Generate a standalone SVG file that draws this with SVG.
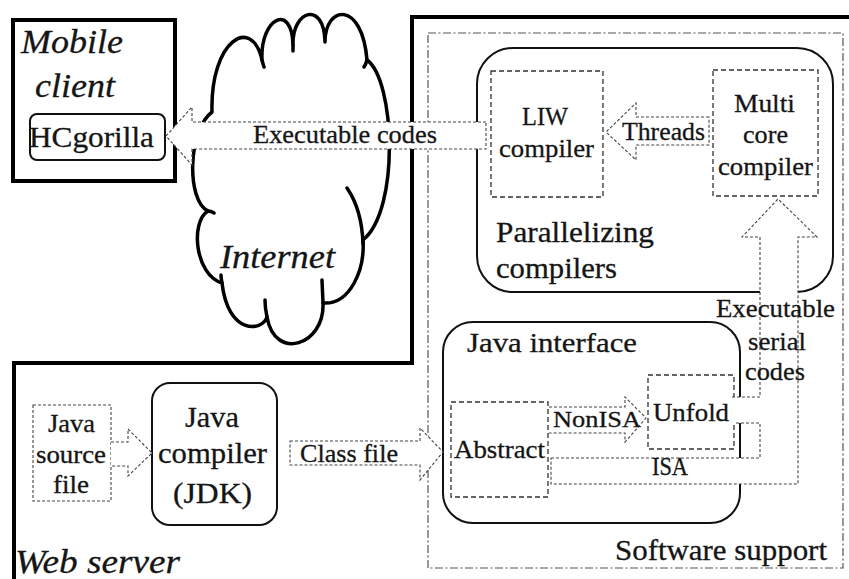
<svg xmlns="http://www.w3.org/2000/svg" width="849" height="579" viewBox="0 0 849 579">
  <style>
    text { font-family: "Times New Roman", serif; fill: #151515; stroke: #151515; stroke-width: 0.3; }
    .it { font-style: italic; }
    .frame { fill: none; stroke: #000; stroke-width: 4; }
    .rbox { fill: none; stroke: #111; stroke-width: 2; }
    .dbox { fill: none; stroke: #333; stroke-width: 1.3; stroke-dasharray: 5 3; }
    .sbox { fill: none; stroke: #444; stroke-width: 1.1; stroke-dasharray: 3 2; }
    .ddot { fill: none; stroke: #555; stroke-width: 1.2; stroke-dasharray: 8 2.5 2 2.5; }
    .arrow { fill: #fff; stroke: #444; stroke-width: 1.1; stroke-dasharray: 3 2; }
    .fill { fill: #fff; stroke: none; }
    .line { fill: none; stroke: #444; stroke-width: 1.1; stroke-dasharray: 3 2; }
    .cloud { fill: #fff; stroke: #000; stroke-width: 3.5; stroke-linejoin: round; stroke-linecap: round; }
    .tail { fill: none; stroke: #000; stroke-width: 3.5; stroke-linecap: round; }
  </style>

  <!-- outer frames -->
  <g id="mobile-client">
    <rect class="frame" x="13" y="20" width="162" height="161"/>
    <text class="it" x="21" y="53" font-size="34" textLength="102" lengthAdjust="spacingAndGlyphs">Mobile</text>
    <text class="it" x="35" y="97" font-size="34" textLength="80" lengthAdjust="spacingAndGlyphs">client</text>
  </g>
  <g id="hcgorilla">
    <rect class="rbox" x="30" y="114" width="135" height="46" rx="7"/>
    <text x="29" y="147" font-size="30" textLength="125" lengthAdjust="spacingAndGlyphs">HCgorilla</text>
  </g>

  <g id="web-server">
    <path class="frame" d="M851,17 L412,17 L412,363 L14,363 L14,581"/>
    <text class="it" x="15" y="573" font-size="34" textLength="165" lengthAdjust="spacingAndGlyphs">Web server</text>
  </g>

  <g id="software-support">
    <rect class="ddot" x="428" y="33" width="415" height="535"/>
    <text x="615" y="560" font-size="30" textLength="212" lengthAdjust="spacingAndGlyphs">Software support</text>
  </g>

  <g id="parallelizing-compilers">
    <rect class="rbox" x="477" y="48" width="356" height="244" rx="36"/>
  </g>
  <g id="liw-compiler">
    <rect class="dbox" x="491" y="71" width="112" height="126"/>
  </g>
  <g id="multicore-compiler">
    <rect class="dbox" x="713" y="70" width="105" height="126"/>
  </g>

  <g id="java-interface">
    <rect class="rbox" x="443" y="322" width="297" height="201" rx="30"/>
  </g>
  <g id="abstract">
    <rect class="dbox" x="451" y="402" width="97" height="95"/>
  </g>
  <g id="unfold">
    <rect class="dbox" x="648" y="375" width="86" height="74"/>
  </g>

  <g id="java-source">
    <rect class="sbox" x="33" y="405" width="78" height="96"/>
  </g>
  <g id="java-compiler">
    <rect class="rbox" x="152" y="383" width="125" height="142" rx="18"/>
  </g>

  <!-- the Internet cloud -->
  <g id="internet">
    <path class="cloud" d="M212,112
      C210,40 252,15 262,60
      C260,18 292,2 293,45
      C292,10 324,0 325,42
      C325,5 362,0 367,60
      C395,80 400,210 363,240
      C365,270 350,305 323,303
      C325,345 275,362 267,317
      C262,332 228,335 222,283
      C195,275 190,222 208,211
      C186,200 188,130 212,112 Z"/>
    <path class="tail" d="M262,60 Q263,64 264,67 M293,45 L293,51 M367,60 Q366,64 364,67 M347,188 Q362,210 363,244 M323,303 L322,280 M267,317 Q265,308 265,300 M222,283 Q221,278 221,275 M208,211 Q211,211 214,213"/>
  </g>

  <!-- connectors -->
  <g id="connectors">
    <!-- Executable codes -->
    <path class="arrow" d="M486,122 L192,122 L192,107 L166,136 L192,165 L192,149 L486,149 Z"/>
    <!-- Threads -->
    <path class="arrow" d="M709,117 L636,117 L636,103 L606,132 L636,160 L636,145 L709,145 Z"/>
    <!-- Java source to compiler -->
    <path class="arrow" d="M111,442 L128,442 L128,429 L152,453 L128,476 L128,466 L111,466"/>
    <!-- Class file -->
    <path class="arrow" d="M290,441 L420,441 L420,428 L443,452 L420,480 L420,465 L290,465 Z"/>
    <!-- NonISA -->
    <path class="arrow" d="M549,407 L625,407 L625,397 L646,418 L625,442 L625,433 L549,433"/>
    <!-- ISA and Unfold up to the multi core compiler -->
    <path class="fill" d="M551,458 L760,458 L760,423 L732,423 L732,397 L760,397 L760,237 L742,237 L778,199 L817,237 L798,237 L798,484 L551,484 Z"/>
    <path class="line" d="M551,458 L760,458 L760,423 L734,423"/>
    <path class="line" d="M732,397 L760,397 L760,237 L742,237 L778,199 L817,237 L798,237 L798,484 L551,484 L551,458"/>
  </g>

  <!-- labels -->
  <g id="labels" lengthAdjust="spacingAndGlyphs">
    <text x="253" y="143" font-size="25" textLength="184" lengthAdjust="spacingAndGlyphs">Executable codes</text>
    <text class="it" x="220" y="268" font-size="33" textLength="115" lengthAdjust="spacingAndGlyphs">Internet</text>

    <text x="522" y="125" font-size="26" textLength="46" lengthAdjust="spacingAndGlyphs">LIW</text>
    <text x="499" y="157" font-size="26" textLength="95" lengthAdjust="spacingAndGlyphs">compiler</text>
    <text x="734" y="112" font-size="26" textLength="61" lengthAdjust="spacingAndGlyphs">Multi</text>
    <text x="743" y="143" font-size="26" textLength="45" lengthAdjust="spacingAndGlyphs">core</text>
    <text x="718" y="175" font-size="26" textLength="95" lengthAdjust="spacingAndGlyphs">compiler</text>
    <text x="622" y="140" font-size="25" textLength="83" lengthAdjust="spacingAndGlyphs">Threads</text>
    <text x="496" y="242" font-size="30" textLength="158" lengthAdjust="spacingAndGlyphs">Parallelizing</text>
    <text x="496" y="278" font-size="30" textLength="121" lengthAdjust="spacingAndGlyphs">compilers</text>

    <text x="716" y="317" font-size="26" textLength="119" lengthAdjust="spacingAndGlyphs">Executable</text>
    <text x="748" y="350" font-size="26" textLength="58" lengthAdjust="spacingAndGlyphs">serial</text>
    <text x="745" y="380" font-size="26" textLength="60" lengthAdjust="spacingAndGlyphs">codes</text>

    <text x="467" y="352" font-size="28" textLength="170" lengthAdjust="spacingAndGlyphs">Java interface</text>
    <text x="454" y="458" font-size="26" textLength="91" lengthAdjust="spacingAndGlyphs">Abstract</text>
    <text x="553" y="427" font-size="24" textLength="88" lengthAdjust="spacingAndGlyphs">NonISA</text>
    <text x="653" y="421" font-size="25" textLength="76" lengthAdjust="spacingAndGlyphs">Unfold</text>
    <text x="652" y="475" font-size="25" textLength="36" lengthAdjust="spacingAndGlyphs">ISA</text>

    <text x="300" y="462" font-size="25" textLength="98" lengthAdjust="spacingAndGlyphs">Class file</text>
    <text x="48" y="432" font-size="25" textLength="47" lengthAdjust="spacingAndGlyphs">Java</text>
    <text x="36" y="463" font-size="25" textLength="70" lengthAdjust="spacingAndGlyphs">source</text>
    <text x="53" y="493" font-size="25" textLength="36" lengthAdjust="spacingAndGlyphs">file</text>
    <text x="185" y="427" font-size="30" textLength="54" lengthAdjust="spacingAndGlyphs">Java</text>
    <text x="158" y="463" font-size="30" textLength="109" lengthAdjust="spacingAndGlyphs">compiler</text>
    <text x="173" y="503" font-size="30" textLength="79" lengthAdjust="spacingAndGlyphs">(JDK)</text>
  </g>
</svg>
